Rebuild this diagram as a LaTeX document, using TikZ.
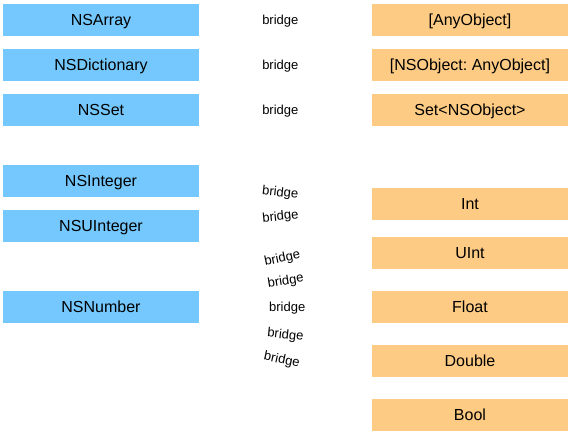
\documentclass[tikz,border=0pt]{standalone}
\usepackage{fontspec}
\setmainfont{Liberation Sans}
\frenchspacing
\definecolor{objcblue}{RGB}{116,200,253}
\definecolor{swiftorange}{RGB}{253,203,132}
\tikzset{
	objc/.style={fill=objcblue, minimum width=196pt, minimum height=32pt, inner sep=0pt, text depth=0pt, font=\fontsize{16}{18}\selectfont},
	swift/.style={fill=swiftorange, minimum width=196pt, minimum height=32pt, inner sep=0pt, text depth=0pt, font=\fontsize{16}{18}\selectfont},
	bridgelbl/.style={font=\fontsize{13}{15}\selectfont, inner sep=0pt, text depth=0pt}
}

\begin{document}
\begin{tikzpicture}[x=1pt,y=-1pt]
\useasboundingbox (0,0) rectangle (572,435);

% Foundation types
\node[objc] (nsarray) at (101,20) {NSArray};
\node[objc] (nsdictionary) at (101,65) {NSDictionary};
\node[objc] (nsset) at (101,110) {NSSet};
\node[objc] (nsinteger) at (101,181) {NSInteger};
\node[objc] (nsuinteger) at (101,226) {NSUInteger};
\node[objc] (nsnumber) at (101,307) {NSNumber};

% Swift types
\node[swift] (anyobject) at (470,20) {[AnyObject]};
\node[swift] (dictobject) at (470,65) {[NSObject: AnyObject]};
\node[swift] (setobject) at (470,110) {Set<NSObject>};
\node[swift] (int) at (470,204) {Int};
\node[swift] (uint) at (470,253) {UInt};
\node[swift] (float) at (470,307) {Float};
\node[swift] (double) at (470,361) {Double};
\node[swift] (bool) at (470,415) {Bool};

% bridges
\path (nsarray.east) -- (anyobject.west) node[bridgelbl, pos=0.47] {bridge};
\path (nsdictionary.east) -- (dictobject.west) node[bridgelbl, pos=0.47] {bridge};
\path (nsset.east) -- (setobject.west) node[bridgelbl, pos=0.47] {bridge};
\path (nsinteger.east) -- (int.west) node[bridgelbl, pos=0.47, rotate=-6] {bridge};
\path (nsuinteger.east) -- (int.west) node[bridgelbl, pos=0.47, rotate=6] {bridge};
\path (nsnumber.east) -- (int.west) node[bridgelbl, pos=0.48, rotate=12] {bridge};
\path (nsnumber.east) -- (uint.west) node[bridgelbl, pos=0.5, rotate=9] {bridge};
\path (nsnumber.east) -- (float.west) node[bridgelbl, pos=0.51] {bridge};
\path (nsnumber.east) -- (double.west) node[bridgelbl, pos=0.5, rotate=-6] {bridge};
\path (nsnumber.east) -- (bool.west) node[bridgelbl, pos=0.48, rotate=-12] {bridge};
\end{tikzpicture}
\end{document}
